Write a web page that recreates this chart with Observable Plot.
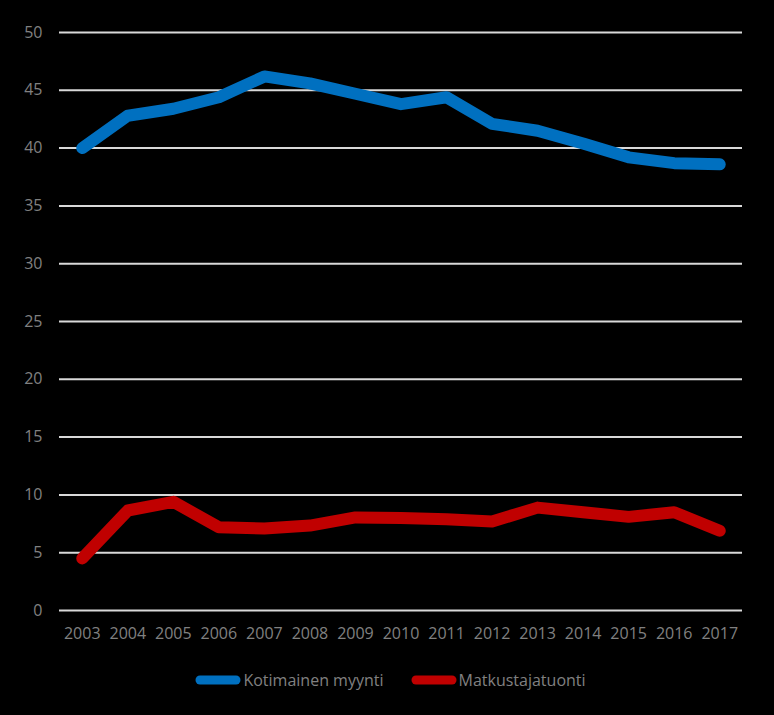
<!DOCTYPE html>
<html>
<head>
<meta charset="utf-8">
<script src="https://cdn.jsdelivr.net/npm/d3@7"></script>
<script src="https://cdn.jsdelivr.net/npm/@observablehq/plot@0.6"></script>
<style>
  html, body { margin: 0; padding: 0; background: #000; }
  #chart { width: 774px; }
  .legend { display: flex; justify-content: center; align-items: center; gap: 26px; height: 40px;
    font-family: "Open Sans", sans-serif; font-size: 16px; color: #808080; margin-top: 0px; padding-left: 6px; }
  .legend span.item { display: flex; align-items: center; }
  .legend svg { margin-right: 1px; }
</style>
</head>
<body>
<div id="chart"></div>
<script>
const years = [2003, 2004, 2005, 2006, 2007, 2008, 2009, 2010, 2011, 2012, 2013, 2014, 2015, 2016, 2017];
const seriesNames = ["Kotimainen myynti", "Matkustajatuonti"];
const kotimainen = [40.0, 42.8, 43.4, 44.4, 46.2, 45.6, 44.7, 43.8, 44.4, 42.1, 41.5, 40.4, 39.2, 38.7, 38.6];
const matkustaja = [4.5, 8.65, 9.4, 7.2, 7.1, 7.35, 8.05, 8.0, 7.9, 7.7, 8.9, 8.5, 8.1, 8.5, 6.9];
const yTicks = [0, 5, 10, 15, 20, 25, 30, 35, 40, 45, 50];
const colors = ["#0070C0", "#C00000"];

const data = [];
years.forEach((y, i) => {
  data.push({year: String(y), value: kotimainen[i], series: seriesNames[0]});
  data.push({year: String(y), value: matkustaja[i], series: seriesNames[1]});
});

const plot = Plot.plot({
  width: 774,
  height: 660,
  marginLeft: 59,
  marginRight: 32,
  marginTop: 32,
  marginBottom: 50,
  style: {background: "#000", color: "#808080", fontFamily: "Open Sans, sans-serif", fontSize: "16px"},
  x: {type: "point", domain: years.map(String), padding: 0.5, round: false, label: null},
  y: {domain: [0, 50], ticks: yTicks, label: null},
  color: {domain: seriesNames, range: colors},
  marks: [
    Plot.ruleY(yTicks, {stroke: "#d9d9d9", strokeWidth: 2}),
    Plot.axisY(yTicks, {tickSize: 0, tickPadding: 17, label: null, fill: "#808080", fontSize: 16}),
    Plot.axisX({tickSize: 0, tickPadding: 17, label: null, fill: "#808080", fontSize: 16}),
    Plot.line(data, {x: "year", y: "value", z: "series", stroke: "series", strokeWidth: 12, strokeLinejoin: "round", strokeLinecap: "round"})
  ]
});
document.getElementById("chart").appendChild(plot);

const legend = document.createElement("div");
legend.className = "legend";
seriesNames.forEach((name, i) => {
  const item = document.createElement("span");
  item.className = "item";
  item.innerHTML = `<svg width="48" height="14"><line x1="6" y1="7" x2="42" y2="7" stroke="${colors[i]}" stroke-width="9" stroke-linecap="round"/></svg><span>${name}</span>`;
  legend.appendChild(item);
});
document.getElementById("chart").appendChild(legend);
</script>
</body>
</html>
